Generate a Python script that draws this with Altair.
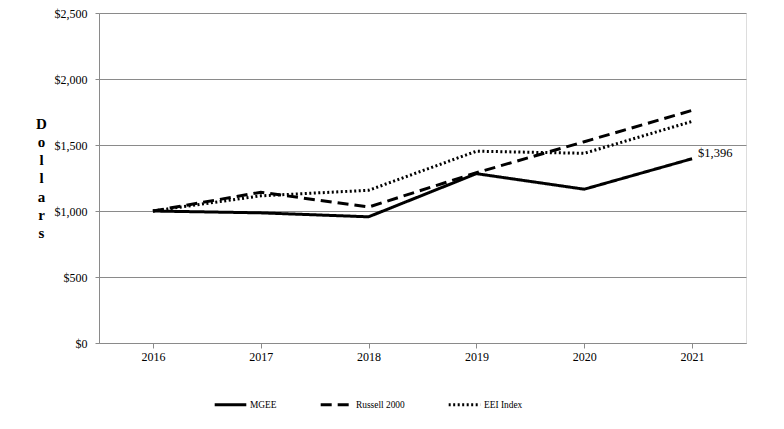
import altair as alt
import pandas as pd

years = ["2016", "2017", "2018", "2019", "2020", "2021"]
series = ["MGEE", "Russell 2000", "EEI  Index"]
mgee = [1000, 986, 956, 1283, 1165, 1396]
russell = [1000, 1142, 1030, 1290, 1525, 1762]
eei = [1000, 1115, 1157, 1453, 1437, 1679]
y_ticks = [0, 500, 1000, 1500, 2000, 2500]
end_label = "$1,396"

rows = []
for name, vals in zip(series, [mgee, russell, eei]):
    for yr, v in zip(years, vals):
        rows.append({"Year": yr, "Value": v, "Series": name})
df = pd.DataFrame(rows)

FONT = "Liberation Serif"
GRAY = "#8a8a8a"

legend_cfg = dict(title=None, orient="none", direction="horizontal",
                  legendX=114, legendY=374, symbolType="stroke",
                  symbolSize=1000, symbolStrokeColor="black",
                  labelFont=FONT, labelFontSize=9.4, labelColor="black",
                  labelFontWeight="normal", columnPadding=37, labelOffset=2)

base = alt.Chart(df)

lines = base.mark_line(color="black").encode(
    x=alt.X("Year:O", sort=years,
            scale=alt.Scale(type="point", padding=0.5),
            axis=alt.Axis(title=None, labelAngle=0, labelFont=FONT, labelFontSize=12,
                          labelFontWeight="normal",
                          labelColor="black", domainColor=GRAY, tickColor=GRAY,
                          tickSize=5, labelPadding=3, grid=False)),
    y=alt.Y("Value:Q",
            scale=alt.Scale(domain=[0, 2500], nice=False),
            axis=alt.Axis(values=y_ticks, format="$,.0f",
                          title=["D", "o", "l", "l", "a", "r", "s"],
                          titleAngle=0, titleFont=FONT, titleFontSize=15,
                          titleFontWeight="bold", titleLineHeight=18.3,
                          titleAlign="center", titleBaseline="middle",
                          titleX=-58, titleY=110, titleColor="black",
                          labelFont=FONT, labelFontSize=12, labelColor="black",
                          labelFontWeight="normal",
                          domainColor=GRAY, tickColor=GRAY, tickSize=4,
                          labelPadding=8, gridColor=GRAY, gridWidth=1)),
    strokeDash=alt.StrokeDash("Series:N",
        scale=alt.Scale(domain=series, range=[[1, 0], [11, 6], [2, 2.5]]),
        legend=alt.Legend(**legend_cfg)),
    strokeWidth=alt.StrokeWidth("Series:N",
        scale=alt.Scale(domain=series, range=[3, 3, 2.5]),
        legend=alt.Legend(**legend_cfg)),
)

label_df = pd.DataFrame({"Year": [years[-1]], "Value": [mgee[-1]], "Text": [end_label]})
label = alt.Chart(label_df).mark_text(
    align="left", baseline="alphabetic", dx=6, dy=-2,
    font=FONT, fontSize=12.5, color="black"
).encode(
    x=alt.X("Year:O", sort=years),
    y="Value:Q",
    text="Text:N",
)

chart = alt.layer(lines, label).properties(
    width=647, height=330,
    autosize=alt.AutoSizeParams(type="none"),
    padding={"left": 91, "top": 5, "right": 30, "bottom": 86},
).configure_view(stroke=GRAY, strokeWidth=1).configure(background="white")

chart.save("out.html", embed_options={"renderer": "svg", "actions": False})
